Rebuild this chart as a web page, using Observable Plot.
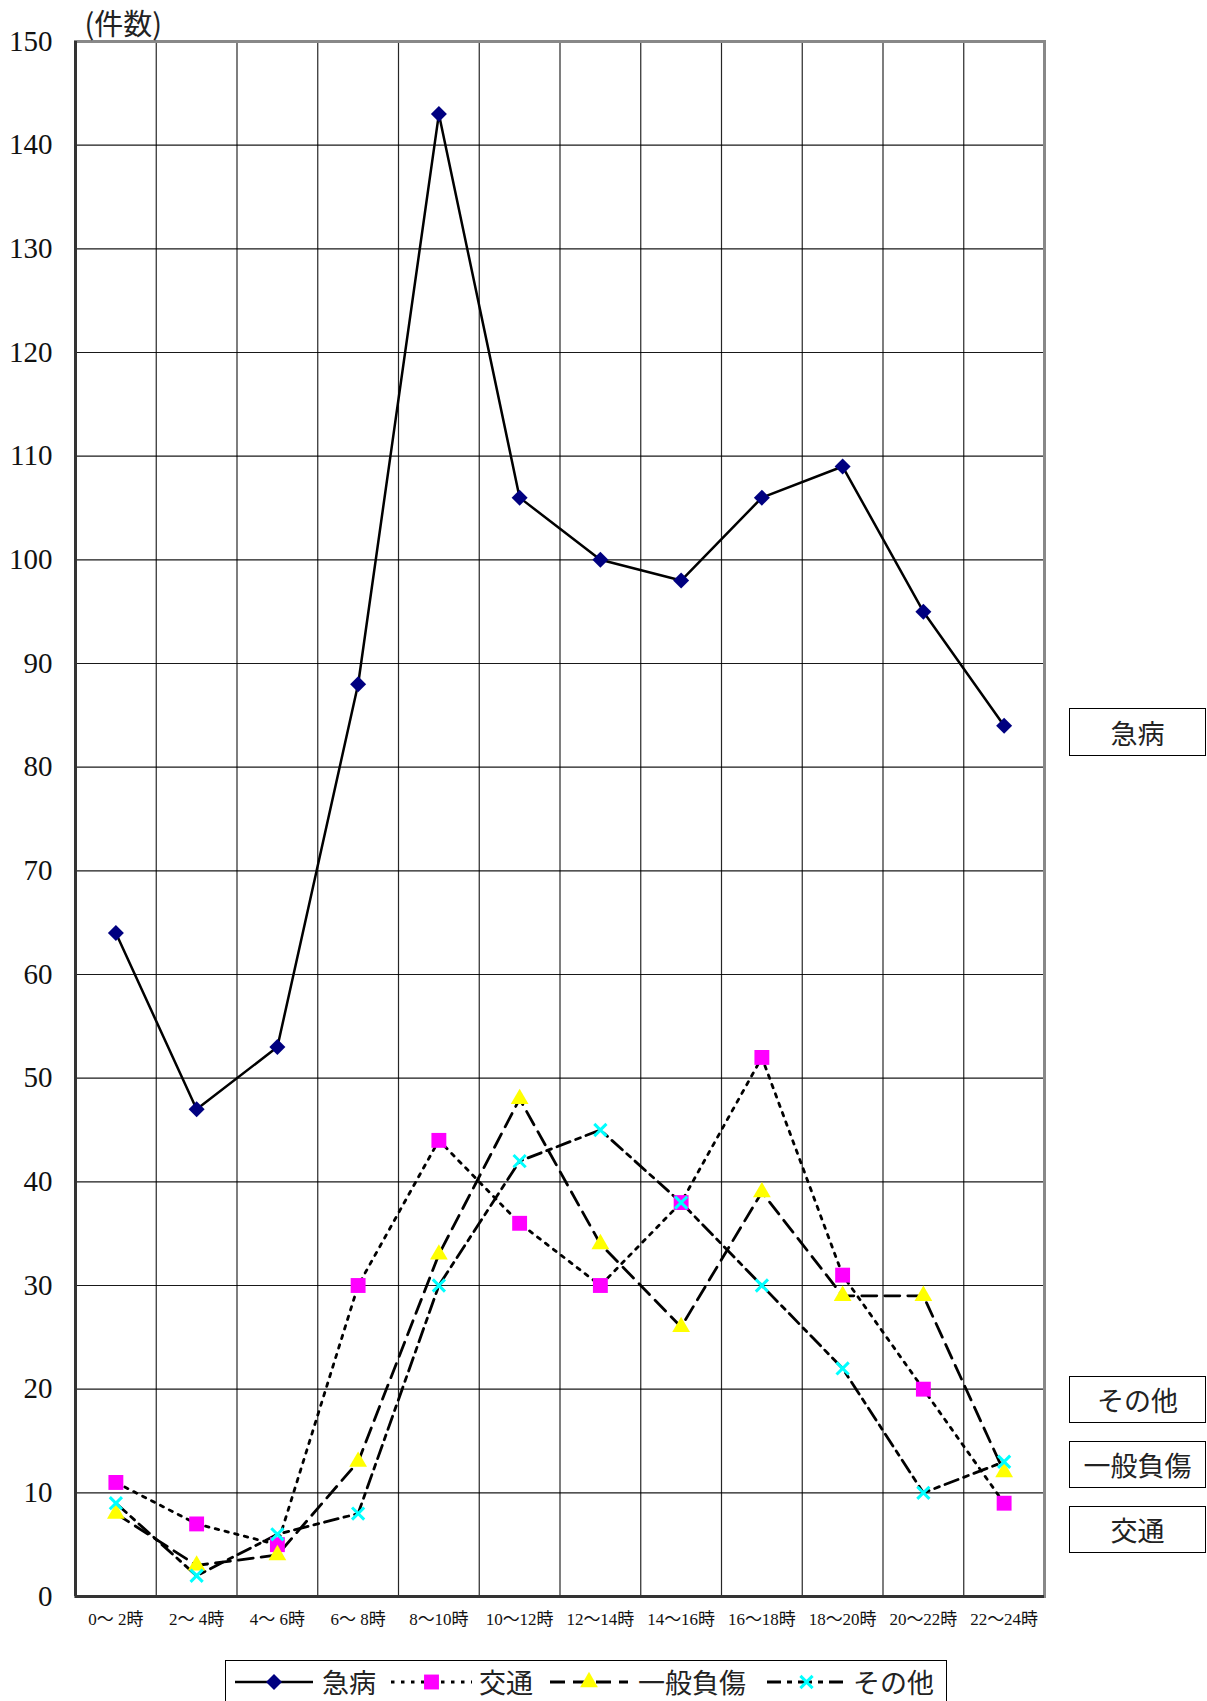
<!DOCTYPE html>
<html><head><meta charset="utf-8">
<script src="https://cdn.jsdelivr.net/npm/d3@7"></script>
<script src="https://cdn.jsdelivr.net/npm/@observablehq/plot@0.6"></script>
<style>
body{margin:0;background:#fff;}
#wrap{position:relative;width:1207px;height:1701px;overflow:hidden;background:#fff;}
.box{position:absolute;border:1.5px solid #000;box-sizing:border-box;display:flex;align-items:center;justify-content:center;font-family:"Noto Sans CJK JP";font-size:27px;color:#222;background:#fff;}
#legend{position:absolute;left:225px;top:1660px;width:722px;height:60px;border:1.5px solid #000;box-sizing:border-box;background:#fff;}
.ltext{position:absolute;top:0;height:42px;line-height:42px;font-family:"Noto Sans CJK JP";font-size:27px;color:#222;white-space:nowrap;}
.lsvg{position:absolute;top:0;}
</style></head>
<body>
<div id="wrap"></div>
<script>
const categories = ["0～ 2時","2～ 4時","4～ 6時","6～ 8時","8～10時","10～12時","12～14時","14～16時","16～18時","18～20時","20～22時","22～24時"];
const kyubyo = [64,47,53,88,143,106,100,98,106,109,95,84];
const kotsu  = [11,7,5,30,44,36,30,38,52,31,20,9];
const ippan  = [8,3,4,13,33,48,34,26,39,29,29,12];
const sonota = [9,2,6,8,30,42,45,38,30,22,10,13];
const yTicks = d3.range(0,151,10);
const seriesNames = ["急病","交通","一般負傷","その他"];
const yUnit = "(件数)";

const seriesValues = [kyubyo,kotsu,ippan,sonota];
const styles = [
  {stroke:"#000", strokeWidth:2.5, dash:null, symbol:"diamond2", r:7.2, fill:"#000080", mstroke:"none", msw:0},
  {stroke:"#000", strokeWidth:2.8, dash:"3.5,6.5", symbol:"square", r:8.4, fill:"#ff00ff", mstroke:"none", msw:0},
  {stroke:"#000", strokeWidth:2.8, dash:"15,8", symbol:"triangle", r:6.6, fill:"#ffff00", mstroke:"none", msw:0},
  {stroke:"#000", strokeWidth:2.8, dash:"14,6,5,6", symbol:"times", r:5.6, fill:"none", mstroke:"#00ffff", msw:3}
];
const rows = seriesValues.map((vals,s)=>vals.map((v,i)=>({series:seriesNames[s], x:i+0.5, y:v})));

const marks = [
  Plot.gridY(d3.range(10,150,10), {stroke:"#000", strokeOpacity:0.9, strokeWidth:1.2}),
  Plot.gridX(d3.range(1,12), {stroke:"#000", strokeOpacity:0.85, strokeWidth:1.2}),
  Plot.frame({stroke:"#888", strokeWidth:3}),
  Plot.ruleX([0], {stroke:"#333", strokeWidth:3}),
  Plot.ruleY([0], {stroke:"#333", strokeWidth:3}),
  Plot.axisY(yTicks, {anchor:"left", tickSize:0, tickPadding:23, fontSize:29, fontFamily:"Liberation Serif", label:null}),
  Plot.axisX(categories.map((c,i)=>i+0.5), {anchor:"bottom", tickSize:0, tickPadding:16, fontSize:17, fontFamily:"Liberation Serif, Noto Sans CJK JP", tickFormat:d=>categories[Math.floor(d)], label:null}),
  Plot.text([yUnit], {frameAnchor:"top-left", dx:9, dy:-27, textAnchor:"start", fontSize:29, fontFamily:"Noto Sans CJK JP", fill:"#222"})
];
rows.forEach((data,s)=>{
  const st = styles[s];
  const o = {x:"x", y:"y", stroke:st.stroke, strokeWidth:st.strokeWidth};
  if (st.dash) o.strokeDasharray = st.dash;
  marks.push(Plot.line(data, o));
});
rows.forEach((data,s)=>{
  const st = styles[s];
  marks.push(Plot.dot(data, {x:"x", y:"y", symbol:()=>st.symbol, r:st.r, fill:st.fill, stroke:st.mstroke, strokeWidth:st.msw}));
});

const chart = Plot.plot({
  width:1207, height:1701,
  marginLeft:75, marginTop:41, marginRight:163, marginBottom:105,
  x:{type:"linear", domain:[0,12], axis:null},
  y:{type:"linear", domain:[0,150], axis:null},
  symbol:{type:"identity"},
  style:{background:"#fff", color:"#111", fontFamily:"Liberation Serif"},
  marks
});
const wrap = document.getElementById("wrap");
wrap.appendChild(chart);

// right-side annotation boxes
const boxes = [
  {name:seriesNames[0], top:708, h:48},
  {name:seriesNames[3], top:1376, h:47},
  {name:seriesNames[2], top:1441, h:47},
  {name:seriesNames[1], top:1506, h:47}
];
boxes.forEach(b=>{
  const d = document.createElement("div");
  d.className="box";
  d.style.left="1069px"; d.style.top=b.top+"px"; d.style.width="137px"; d.style.height=b.h+"px";
  d.textContent=b.name;
  wrap.appendChild(d);
});

// legend
const legend = document.createElement("div");
legend.id="legend";
wrap.appendChild(legend);
const legendItems = [
  {lx:9, lw:78, tx:96},
  {lx:165, lw:81, tx:253},
  {lx:324, lw:78, tx:412},
  {lx:541, lw:79, tx:627}
];
const symMap = {diamond2:d3.symbolDiamond2, square:d3.symbolSquare, triangle:d3.symbolTriangle, times:d3.symbolTimes};
legendItems.forEach((it,s)=>{
  const st = styles[s];
  const svg = d3.create("svg").attr("class","lsvg").attr("width",it.lw+4).attr("height",42)
    .style("left",(it.lx-2)+"px");
  svg.append("line").attr("x1",2).attr("x2",it.lw+2).attr("y1",21).attr("y2",21)
    .attr("stroke",st.stroke).attr("stroke-width",st.strokeWidth)
    .attr("stroke-dasharray",st.dash||null);
  svg.append("path").attr("transform",`translate(${2+it.lw/2},21)`)
    .attr("d",d3.symbol(symMap[st.symbol], Math.PI*st.r*st.r)())
    .attr("fill",st.fill).attr("stroke",st.mstroke).attr("stroke-width",st.msw);
  legend.appendChild(svg.node());
  const t = document.createElement("div");
  t.className="ltext"; t.style.left=it.tx+"px"; t.textContent=seriesNames[s];
  legend.appendChild(t);
});
</script>
</body></html>
